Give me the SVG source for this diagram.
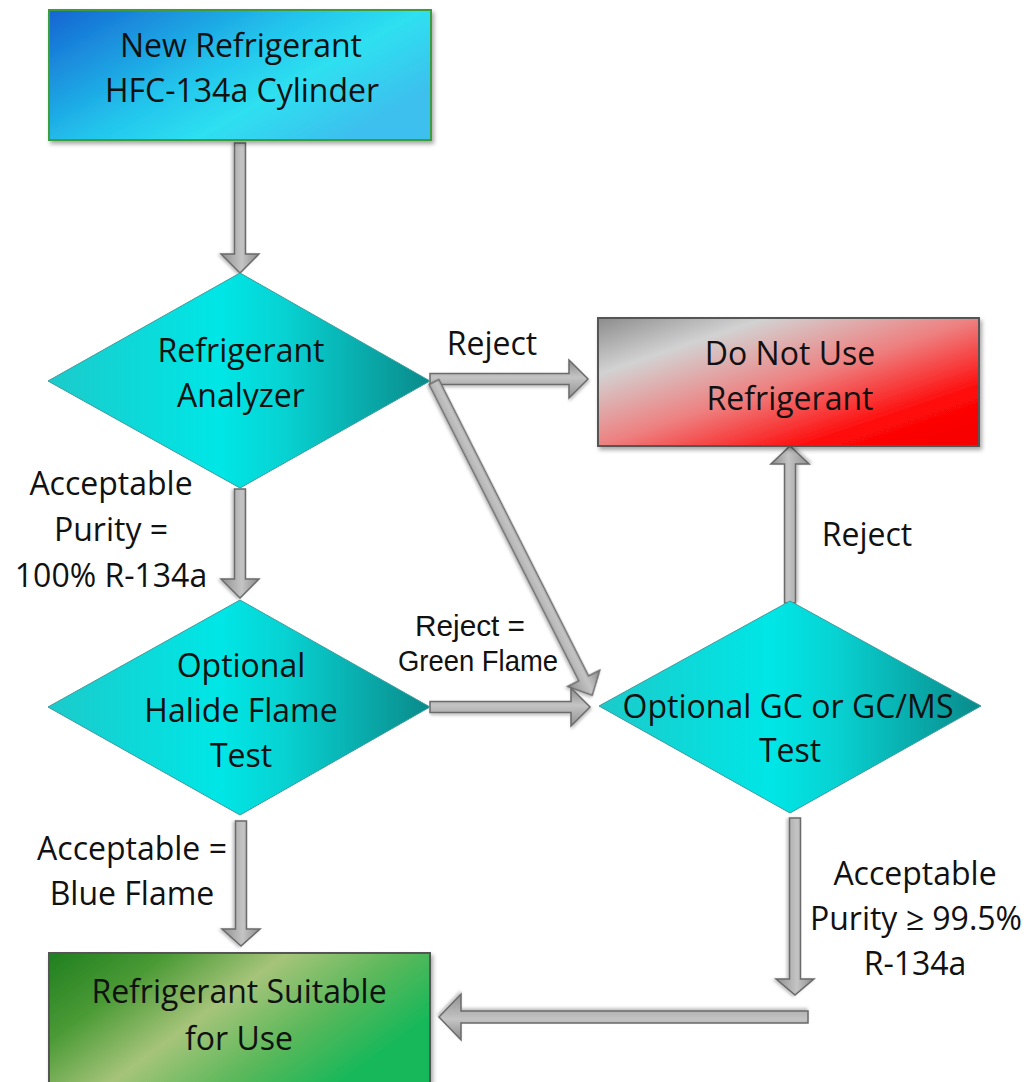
<svg xmlns="http://www.w3.org/2000/svg" width="1029" height="1082" viewBox="0 0 1029 1082">
<defs>
  <linearGradient id="gBlue" x1="0" y1="0" x2="1" y2="0.6">
    <stop offset="0" stop-color="#1565d2"/>
    <stop offset="0.5" stop-color="#22c4ec"/>
    <stop offset="0.72" stop-color="#2ee0f0"/>
    <stop offset="1" stop-color="#3cc0ee"/>
  </linearGradient>
  <linearGradient id="gRed" x1="0" y1="0" x2="1" y2="1">
    <stop offset="0" stop-color="#8c8c8c"/>
    <stop offset="0.22" stop-color="#d2d2d2"/>
    <stop offset="0.5" stop-color="#ee8080"/>
    <stop offset="0.78" stop-color="#ff0808"/>
    <stop offset="1" stop-color="#f50000"/>
  </linearGradient>
  <linearGradient id="gGreen" x1="0" y1="0" x2="1" y2="0.5">
    <stop offset="0" stop-color="#1f7f1f"/>
    <stop offset="0.25" stop-color="#4a9a35"/>
    <stop offset="0.5" stop-color="#a6c47a"/>
    <stop offset="0.75" stop-color="#5ab85a"/>
    <stop offset="1" stop-color="#12b85a"/>
  </linearGradient>
  <linearGradient id="gDia" x1="0" y1="0" x2="1" y2="0">
    <stop offset="0" stop-color="#1ccaca"/>
    <stop offset="0.45" stop-color="#00e6e6"/>
    <stop offset="0.62" stop-color="#08d2d2"/>
    <stop offset="1" stop-color="#0a8a8a"/>
  </linearGradient>
  <linearGradient id="gArrow" x1="0" y1="0" x2="0" y2="1">
    <stop offset="0" stop-color="#8a8a8a"/>
    <stop offset="0.45" stop-color="#c4c4c4"/>
    <stop offset="1" stop-color="#909090"/>
  </linearGradient>
  <filter id="sh" x="-20%" y="-20%" width="140%" height="150%">
    <feDropShadow dx="2" dy="3" stdDeviation="2" flood-color="#000" flood-opacity="0.35"/>
  </filter>
  <filter id="shA" x="-10%" y="-50%" width="120%" height="200%">
    <feDropShadow dx="1" dy="2" stdDeviation="1.5" flood-color="#000" flood-opacity="0.25"/>
  </filter>
  <style>
    .t { font-family: "Open Sans", "Liberation Sans", sans-serif; font-size: 32px; fill: #111; text-anchor: middle; }
    .a { font-family: "Liberation Sans", Arial, sans-serif; font-size: 30px; fill: #111; text-anchor: middle; }
    .box { stroke-width: 2; filter: url(#sh); }
    .dia { fill: url(#gDia); stroke: #3a9c9c; stroke-width: 1; }
    .arr { fill: url(#gArrow); stroke: #6a6a6a; stroke-width: 1.5; stroke-linejoin: miter; filter: url(#shA); }
  </style>
</defs>
<rect width="1029" height="1082" fill="#ffffff"/>

<g id="connectors">
  <path class="arr" transform="translate(240,143) rotate(90)" d="M0,-5.5 H111 V-19 L130,0 L111,19 V5.5 H0 Z"/>
  <path class="arr" transform="translate(240,489) rotate(90)" d="M0,-5.5 H90 V-19 L109,0 L90,19 V5.5 H0 Z"/>
  <path class="arr" transform="translate(430,379)" d="M0,-5.5 H139 V-19 L158,0 L139,19 V5.5 H0 Z"/>
  <path class="arr" transform="translate(434,382) rotate(63.2)" d="M0,-5.5 H332 V-18 L351,0 L332,18 V5.5 H0 Z"/>
  <path class="arr" transform="translate(430,707)" d="M0,-5.5 H141 V-19 L160,0 L141,19 V5.5 H0 Z"/>
  <path class="arr" transform="translate(790,603) rotate(-90)" d="M0,-5.5 H139 V-19 L157,0 L139,19 V5.5 H0 Z"/>
  <path class="arr" transform="translate(795,818) rotate(90)" d="M0,-5.5 H161 V-19 L177,0 L161,19 V5.5 H0 Z"/>
  <path class="arr" transform="translate(808,1017) rotate(180)" d="M0,-6 H347 V-23 L369,0 L347,23 V6 H0 Z"/>
  <path class="arr" transform="translate(241,821) rotate(90)" d="M0,-5.5 H108 V-19 L125,0 L108,19 V5.5 H0 Z"/>
</g>

<g id="node-cylinder">
  <rect class="box" x="49" y="10" width="382" height="130" fill="url(#gBlue)" stroke="#3c9c3c" stroke-width="2.5"/>
  <text class="t" x="241" y="57">New Refrigerant</text>
  <text class="t" x="242" y="102">HFC-134a Cylinder</text>
</g>

<g id="node-analyzer">
  <polygon class="dia" points="240,273 430,381 240,488 48,381"/>
  <text class="t" x="241" y="362">Refrigerant</text>
  <text class="t" x="241" y="407">Analyzer</text>
</g>

<g id="node-donotuse">
  <rect class="box" x="598" y="318" width="381" height="128" fill="url(#gRed)" stroke="#555555"/>
  <text class="t" x="790" y="365">Do Not Use</text>
  <text class="t" x="790" y="410">Refrigerant</text>
</g>

<g id="node-halide">
  <polygon class="dia" points="240,600 430,707 240,815 48,707"/>
  <text class="t" x="241" y="677">Optional</text>
  <text class="t" x="241" y="722">Halide Flame</text>
  <text class="t" x="241" y="767">Test</text>
</g>

<g id="node-gc">
  <polygon class="dia" points="790,601 981,706 790,813 599,706"/>
  <text class="t" x="788" y="718">Optional GC or GC/MS</text>
  <text class="t" x="790" y="762">Test</text>
</g>

<g id="node-suitable">
  <rect class="box" x="49" y="953" width="381" height="140" fill="url(#gGreen)" stroke="#555555"/>
  <text class="t" x="239" y="1003">Refrigerant Suitable</text>
  <text class="t" x="239" y="1050">for Use</text>
</g>

<g id="labels">
  <text class="t" x="492" y="355">Reject</text>
  <text class="t" x="111" y="495">Acceptable</text>
  <text class="t" x="111" y="541">Purity =</text>
  <text class="t" x="111" y="587">100% R-134a</text>
  <text class="a" x="470" y="636" textLength="110" lengthAdjust="spacingAndGlyphs">Reject =</text>
  <text class="a" x="478" y="671" textLength="160" lengthAdjust="spacingAndGlyphs">Green Flame</text>
  <text class="t" x="867" y="546">Reject</text>
  <text class="t" x="132" y="860">Acceptable =</text>
  <text class="t" x="132" y="905">Blue Flame</text>
  <text class="t" x="915" y="885">Acceptable</text>
  <text class="t" x="916" y="930">Purity ≥ 99.5%</text>
  <text class="t" x="915" y="975">R-134a</text>
</g>
</svg>
